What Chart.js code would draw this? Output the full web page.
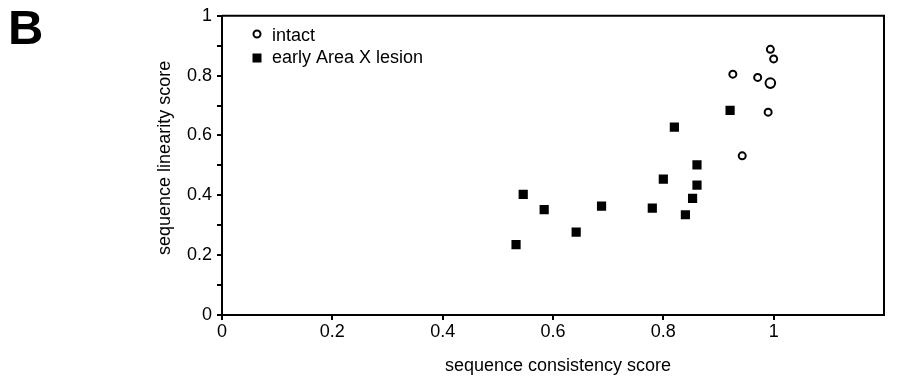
<!DOCTYPE html>
<html>
<head>
<meta charset="utf-8">
<title>sequence linearity vs consistency</title>
<script src="https://cdn.jsdelivr.net/npm/chart.js@4.4.1/dist/chart.umd.min.js"></script>
<style>
  html, body { margin: 0; padding: 0; background: #fff; }
  #wrap { width: 918px; height: 381px; position: relative; }
</style>
</head>
<body>
<div id="wrap"><canvas id="scatter"></canvas></div>
<script>
'use strict';

// values
var intactX = [0.994, 1.000, 0.926, 0.971, 0.994, 0.990, 0.943];
var intactY = [0.888, 0.856, 0.805, 0.794, 0.775, 0.678, 0.532];

var lesionX = [0.533, 0.546, 0.584, 0.642, 0.688, 0.780, 0.800, 0.820, 0.840, 0.853, 0.861, 0.861, 0.921];
var lesionY = [0.235, 0.403, 0.352, 0.277, 0.364, 0.357, 0.454, 0.628, 0.335, 0.390, 0.434, 0.502, 0.684];

var seriesNames = ['intact', 'early Area X lesion'];
var xTickLabels = ['0', '0.2', '0.4', '0.6', '0.8', '1', ''];
var yTickLabels = ['0', '0.2', '0.4', '0.6', '0.8', '1'];
var xTitle = 'sequence consistency score';
var yTitle = 'sequence linearity score';
var panelLetter = 'B';

var FONT = "'Liberation Sans', Arial, Helvetica, sans-serif";

function toPoints(xs, ys) {
	var pts = [];
	for (var i = 0; i < xs.length; i++) {
		pts.push({ x: xs[i], y: ys[i] });
	}
	return pts;
}

// box on top/right, panel letter and the legend inside the plot
var decorations = {
	id: 'decorations',
	afterDraw: function (chart) {
		var c = chart.ctx;
		var a = chart.chartArea;
		c.save();
		c.strokeStyle = '#000';
		c.lineWidth = 2;
		c.beginPath();
		c.moveTo(a.left, a.top);
		c.lineTo(a.right, a.top);
		c.lineTo(a.right, a.bottom);
		c.stroke();

		c.fillStyle = '#000';
		c.font = 'bold 49px ' + FONT;
		c.textBaseline = 'alphabetic';
		c.fillText(panelLetter, 8, 44);

		// legend
		c.lineWidth = 2;
		c.beginPath();
		c.arc(257, 34, 3.5, 0, Math.PI * 2);
		c.stroke();
		c.fillRect(252.5, 53.5, 9, 9);

		c.font = '18px ' + FONT;
		c.fillText(seriesNames[0], 272, 41);
		c.fillText(seriesNames[1], 272, 63);
		c.restore();
	}
};

var ctx = document.getElementById('scatter').getContext('2d');

var scatterChart = new Chart(ctx, {
	type: 'scatter',
	data: {
		datasets: [{
			label: seriesNames[0],
			data: toPoints(intactX, intactY),
			pointStyle: 'circle',
			pointRadius: function (c) { return c.dataIndex === 4 ? 4.8 : 3.5; },
			pointBackgroundColor: '#fff',
			pointBorderColor: '#000',
			pointBorderWidth: 2
		}, {
			label: seriesNames[1],
			data: toPoints(lesionX, lesionY),
			pointStyle: 'rect',
			pointRadius: 6.5,
			pointBackgroundColor: '#000',
			pointBorderColor: '#000',
			pointBorderWidth: 0
		}]
	},
	options: {
		responsive: true,
		maintainAspectRatio: false,
		animation: false,
		layout: { padding: { left: 0, right: 34, top: 13.5, bottom: 0 } },
		plugins: {
			legend: { display: false },
			tooltip: { enabled: false }
		},
		scales: {
			x: {
				type: 'linear',
				min: 0,
				max: 1.2,
				afterFit: function (s) { s.height = 66; },
				border: { display: true, color: '#000', width: 2 },
				grid: {
					drawOnChartArea: false,
					drawTicks: true,
					tickLength: 5,
					lineWidth: 2,
					tickColor: function (c) { return c.index === 6 ? 'rgba(0,0,0,0)' : '#000'; }
				},
				ticks: {
					stepSize: 0.2,
					autoSkip: false,
					maxRotation: 0,
					padding: 1,
					color: '#000',
					font: { family: FONT, size: 18 },
					callback: function (v, i) { return xTickLabels[i]; }
				},
				title: {
					display: true,
					text: '  ' + xTitle,
					color: '#000',
					font: { family: FONT, size: 18 },
					padding: { top: 0, bottom: 4.5 }
				}
			},
			y: {
				type: 'linear',
				min: 0,
				max: 1,
				afterFit: function (s) { s.width = 222; },
				border: { display: true, color: '#000', width: 2 },
				grid: {
					drawOnChartArea: false,
					drawTicks: true,
					tickLength: 5,
					lineWidth: 2,
					tickColor: '#000'
				},
				ticks: {
					stepSize: 0.1,
					autoSkip: false,
					padding: 5,
					color: '#000',
					font: { family: FONT, size: 18 },
					callback: function (v, i) { return i % 2 === 0 ? yTickLabels[i / 2] : ''; }
				},
				title: {
					display: true,
					text: '   ' + yTitle,
					color: '#000',
					font: { family: FONT, size: 18 },
					padding: { top: 154, bottom: 0 }
				}
			}
		}
	},
	plugins: [decorations]
});
</script>
</body>
</html>
